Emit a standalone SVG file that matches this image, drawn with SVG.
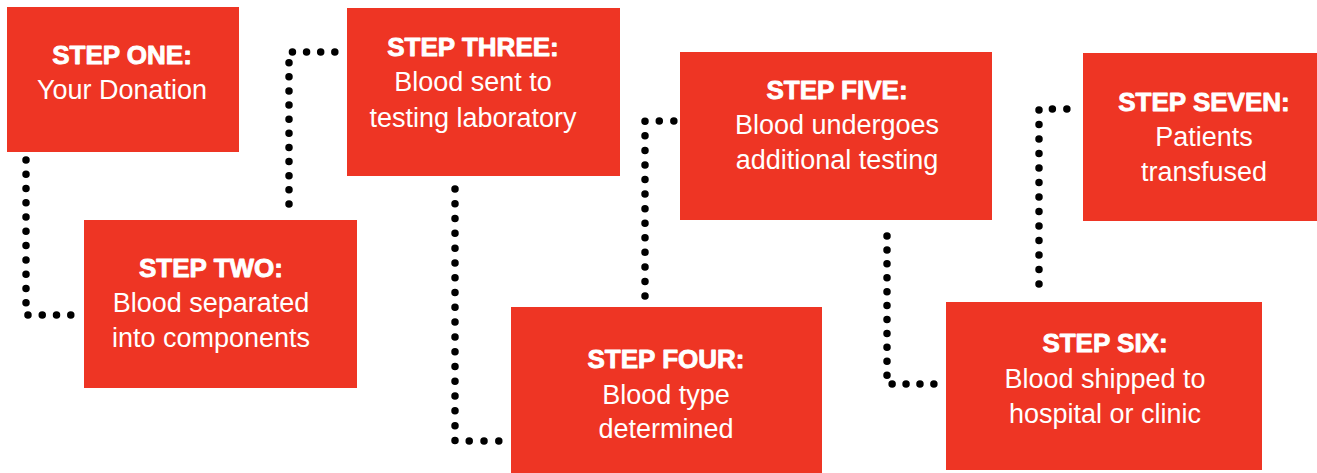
<svg xmlns="http://www.w3.org/2000/svg" width="1317" height="473" viewBox="0 0 1317 473">
<style>
.box{fill:#EE3524}
.h{font-family:"Liberation Sans",Arial,sans-serif;font-weight:bold;font-size:26px;fill:#fff;stroke:#fff;stroke-width:0.9;stroke-linejoin:round;text-anchor:middle}
.b{font-family:"Liberation Sans",Arial,sans-serif;font-size:27px;fill:#fff;text-anchor:middle}
.dot{fill:none;stroke:#000;stroke-width:7.5;stroke-linecap:round;stroke-linejoin:round}
</style>
<rect width="1317" height="473" fill="#fff"/>
<g id="connectors">
<path class="dot" d="M26,160 V315 H71" stroke-dasharray="0 14.27"/>
<path class="dot" d="M289,204 V52 H335" stroke-dasharray="0 14.13"/>
<path class="dot" d="M455,189 V441 H499" stroke-dasharray="0 14.79"/>
<path class="dot" d="M645,296 V121 H674" stroke-dasharray="0 14.56"/>
<path class="dot" d="M887,236 V384 H934" stroke-dasharray="0 13.92"/>
<path class="dot" d="M1039,284 V109 H1067" stroke-dasharray="0 14.49"/>
</g>
<g id="step1">
<rect class="box" x="7" y="7" width="232" height="145"/>
<text class="h" x="122" y="64">STEP ONE:</text>
<text class="b" x="122" y="99">Your Donation</text>
</g>
<g id="step2">
<rect class="box" x="84" y="220" width="273" height="168"/>
<text class="h" x="211" y="277">STEP TWO:</text>
<text class="b" x="211" y="312">Blood separated</text>
<text class="b" x="211" y="347">into components</text>
</g>
<g id="step3">
<rect class="box" x="347" y="8" width="273" height="168"/>
<text class="h" x="473" y="56">STEP THREE:</text>
<text class="b" x="473" y="91">Blood sent to</text>
<text class="b" x="473" y="127">testing laboratory</text>
</g>
<g id="step4">
<rect class="box" x="511" y="307" width="311" height="166"/>
<text class="h" x="666" y="368">STEP FOUR:</text>
<text class="b" x="666" y="404">Blood type</text>
<text class="b" x="666" y="438">determined</text>
</g>
<g id="step5">
<rect class="box" x="680" y="52" width="312" height="168"/>
<text class="h" x="837" y="99">STEP FIVE:</text>
<text class="b" x="837" y="134">Blood undergoes</text>
<text class="b" x="837" y="169">additional testing</text>
</g>
<g id="step6">
<rect class="box" x="946" y="302" width="316" height="168"/>
<text class="h" x="1105" y="352">STEP SIX:</text>
<text class="b" x="1105" y="388">Blood shipped to</text>
<text class="b" x="1105" y="423">hospital or clinic</text>
</g>
<g id="step7">
<rect class="box" x="1083" y="53" width="234" height="168"/>
<text class="h" x="1204" y="111">STEP SEVEN:</text>
<text class="b" x="1204" y="146">Patients</text>
<text class="b" x="1204" y="181">transfused</text>
</g>
</svg>
